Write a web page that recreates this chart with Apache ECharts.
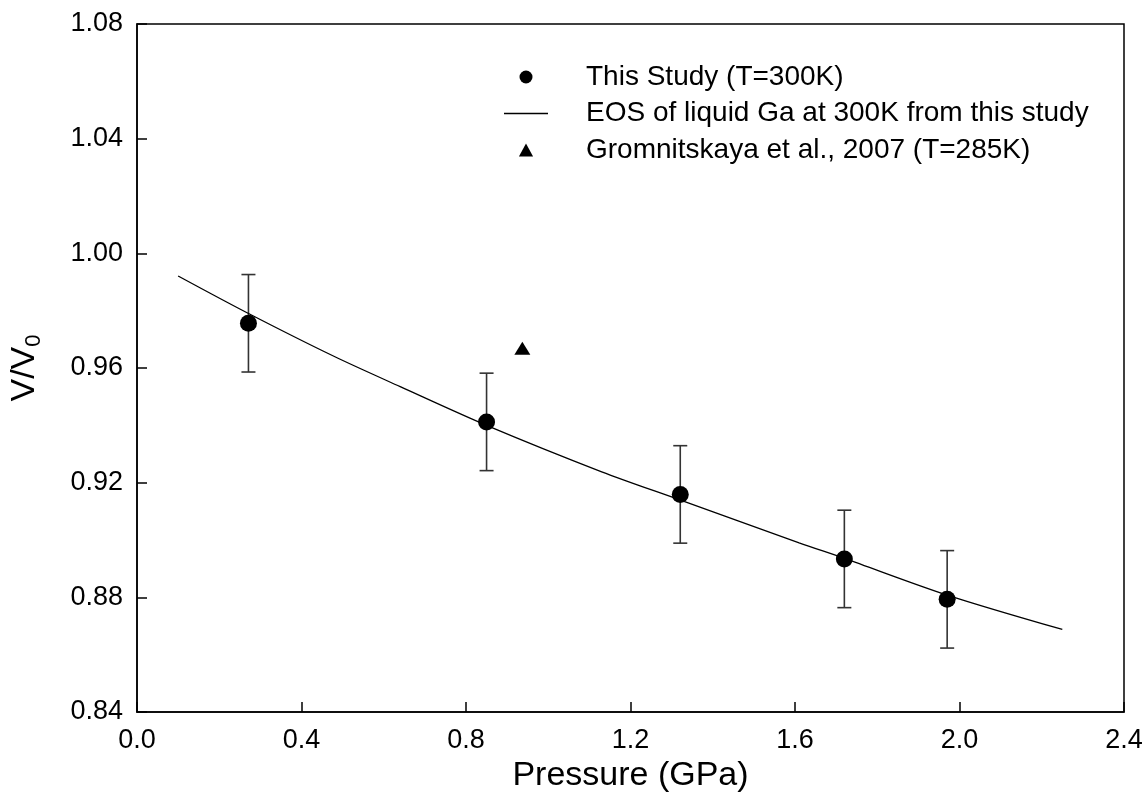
<!DOCTYPE html>
<html>
<head>
<meta charset="utf-8">
<script src="https://cdn.jsdelivr.net/npm/echarts@6/dist/echarts.min.js"></script>
<style>
html,body{margin:0;padding:0;background:#fff;}
#chart{width:1148px;height:812px;}
</style>
</head>
<body>
<div id="chart"></div>
<script>
// This study (T=300K)
const studyP = [0.271, 0.850, 1.321, 1.720, 1.970];
const studyV = [0.9756, 0.9412, 0.9159, 0.8934, 0.8793];
const studyErr = [0.017, 0.017, 0.017, 0.017, 0.017];
// EOS of liquid Ga at 300K from this study
const eosP = [0.10, 0.27, 0.48, 0.64, 0.85, 1.13, 1.32, 1.61, 1.72, 1.97, 2.25];
const eosV = [0.9921, 0.9791, 0.9640, 0.9535, 0.9400, 0.9238, 0.9140, 0.8990, 0.8936, 0.8808, 0.8688];
// Gromnitskaya et al., 2007 (T=285K)
const gromP = [0.937];
const gromV = [0.9669];

const xTicks = ['0.0','0.4','0.8','1.2','1.6','2.0','2.4'];
const yTicks = ['0.84','0.88','0.92','0.96','1.00','1.04','1.08'];

const names = ['This Study (T=300K)', 'EOS of liquid Ga at 300K from this study', 'Gromnitskaya et al., 2007 (T=285K)'];
const FONT = '"Liberation Sans", Arial, sans-serif';

const chart = echarts.init(document.getElementById('chart'), null, {renderer: 'canvas'});
const option = {
  backgroundColor: '#fff',
  animation: false,
  textStyle: {fontFamily: FONT, color: '#000'},
  grid: {left: 136, right: 24, top: 24, bottom: 100, show: true, borderColor: '#000', borderWidth: 1.5},
  legend: {
    orient: 'vertical',
    left: 499, top: 58,
    itemWidth: 44, itemHeight: 13, itemGap: 8.5,
    symbolKeepAspect: true,
    textStyle: {fontSize: 28, fontFamily: FONT, color: '#000', padding: [0, 0, 0, 33]},
    data: [
      {name: names[0], icon: 'circle'},
      {name: names[1], icon: 'path://M0,0L44,0L44,1.3L0,1.3Z'},
      {name: names[2], icon: 'path://M6,0L12,11L0,11Z'}
    ]
  },
  xAxis: {
    type: 'value', min: 0, max: 2.4, interval: 0.4,
    name: 'Pressure (GPa)', nameLocation: 'middle', nameGap: 46,
    nameTextStyle: {fontSize: 34, fontFamily: FONT, color: '#000'},
    axisLine: {lineStyle: {color: '#000', width: 1.5}},
    axisTick: {inside: true, length: 10, lineStyle: {color: '#000', width: 1.5}},
    axisLabel: {fontSize: 27, color: '#000', margin: 15, fontFamily: FONT,
      formatter: (v) => xTicks[Math.round(v / 0.4)]},
    splitLine: {show: false}
  },
  yAxis: {
    type: 'value', min: 0.84, max: 1.08, interval: 0.04,
    name: '{v|V/V}{s|0}', nameLocation: 'middle', nameGap: 92, nameRotate: 90,
    nameTextStyle: {
      fontFamily: FONT, color: '#000',
      rich: {
        v: {fontSize: 34, lineHeight: 40, fontFamily: FONT, color: '#000'},
        s: {fontSize: 22, lineHeight: 22, verticalAlign: 'bottom', fontFamily: FONT, color: '#000'}
      }
    },
    axisLine: {lineStyle: {color: '#000', width: 1.5}},
    axisTick: {inside: true, length: 10, lineStyle: {color: '#000', width: 1.5}},
    axisLabel: {fontSize: 27, color: '#000', margin: 14, fontFamily: FONT,
      formatter: (v) => yTicks[Math.round((v - 0.84) / 0.04)]},
    splitLine: {show: false}
  },
  series: [
    {
      name: 'errbars',
      type: 'custom',
      z: 2,
      silent: true,
      data: studyP.map((p, i) => [p, studyV[i] - studyErr[i], studyV[i] + studyErr[i]]),
      renderItem: function (params, api) {
        const x = api.value(0);
        const lo = api.coord([x, api.value(1)]);
        const hi = api.coord([x, api.value(2)]);
        const w = 7;
        const st = {stroke: '#333', lineWidth: 1.6};
        return {type: 'group', children: [
          {type: 'line', shape: {x1: lo[0], y1: lo[1], x2: hi[0], y2: hi[1]}, style: st},
          {type: 'line', shape: {x1: lo[0] - w, y1: lo[1], x2: lo[0] + w, y2: lo[1]}, style: st},
          {type: 'line', shape: {x1: hi[0] - w, y1: hi[1], x2: hi[0] + w, y2: hi[1]}, style: st}
        ]};
      }
    },
    {
      name: names[1],
      type: 'line',
      z: 3,
      data: eosP.map((p, i) => [p, eosV[i]]),
      showSymbol: false, symbol: 'none',
      smooth: 0.3,
      lineStyle: {color: '#000', width: 1.3},
      itemStyle: {color: '#000'}
    },
    {
      name: names[0],
      type: 'scatter',
      z: 4,
      data: studyP.map((p, i) => [p, studyV[i]]),
      symbol: 'circle', symbolSize: 17,
      itemStyle: {color: '#000', opacity: 1}
    },
    {
      name: names[2],
      type: 'scatter',
      z: 4,
      data: gromP.map((p, i) => [p, gromV[i]]),
      symbol: 'triangle', symbolSize: [16, 13],
      itemStyle: {color: '#000', opacity: 1}
    }
  ]
};
chart.setOption(option);
</script>
</body>
</html>
